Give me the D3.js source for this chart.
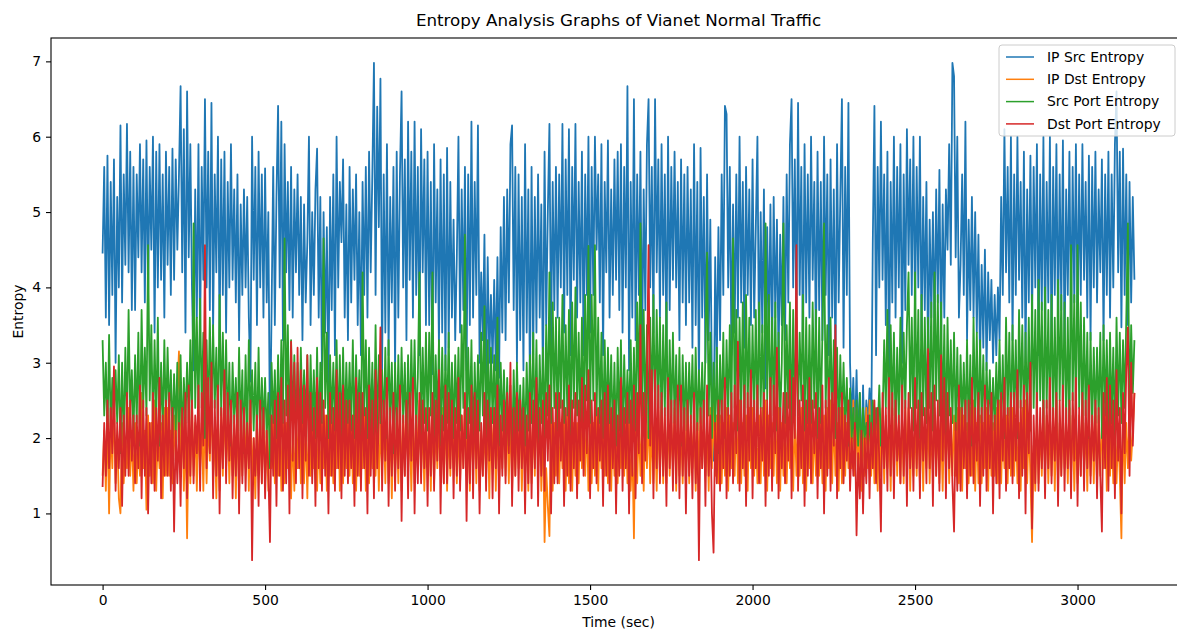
<!DOCTYPE html>
<html>
<head>
<meta charset="utf-8">
<script src="https://cdn.jsdelivr.net/npm/d3@7"></script>
<style>
  body { margin: 0; background: #fff; }
  svg { display: block; font-family: "DejaVu Sans", sans-serif; }
</style>
</head>
<body>
<script>
// sampled every 5 sec, one row = 100 sec
const timeStep = 5;

const ipSrc = [
  4.45, 5.6, 3.6, 5.75, 3.5, 5.4, 3.9, 5.7, 3.0, 5.2, 4.0, 6.15, 3.8, 5.5, 4.3, 6.17, 4.2, 5.8, 3.7, 5.6,
  3.7, 5.5, 4.4, 5.9, 4.2, 5.7, 3.8, 5.95, 3.9, 5.6, 4.5, 6.0, 3.4, 5.8, 4.0, 5.9, 4.1, 5.5, 3.6, 5.8,
  4.3, 5.6, 3.9, 5.84, 4.1, 5.7, 4.5, 5.5, 6.67, 4.2, 6.1, 3.4, 6.6, 4.4, 5.9, 4.0, 2.9, 5.3, 3.6, 5.9,
  3.3, 5.6, 4.1, 6.5, 4.0, 5.8, 3.7, 6.45, 3.4, 5.5, 4.2, 6.0, 3.3, 5.7, 3.9, 5.8, 3.4, 5.4, 4.0, 5.9,
  4.1, 5.3, 3.8, 5.5, 3.3, 5.1, 3.9, 5.3, 4.0, 5.2, 3.6, 2.75, 6.0, 4.1, 5.6, 3.5, 5.8, 4.0, 5.5, 3.6,
  5.58, 3.8, 5.0, 1.9, 3.7, 5.6, 3.5, 5.2, 6.41, 4.0, 6.2, 3.3, 5.9, 4.2, 5.4, 3.7, 5.6, 3.6, 5.3, 4.2,
  5.5, 3.9, 5.2, 3.3, 5.1, 3.8, 4.6, 6.0, 3.5, 5.0, 3.9, 5.3, 5.84, 3.6, 5.2, 2.9, 5.0, 3.4, 4.8, 2.7,
  5.2, 3.7, 5.5, 3.1, 6.0, 4.0, 5.4, 4.6, 5.7, 3.6, 5.1, 3.3, 5.6, 3.8, 5.3, 4.1, 5.5, 3.5, 5.0, 3.1,
  5.4, 3.9, 5.6, 3.6, 5.8, 4.2, 5.5, 6.98, 3.9, 6.4, 4.8, 6.77, 2.9, 5.5, 3.4, 5.9, 3.1, 5.2, 3.8, 5.6,
  2.9, 5.8, 3.6, 5.5, 6.6, 4.0, 5.7, 3.3, 6.2, 4.1, 5.8, 3.6, 6.2, 3.9, 5.6, 3.1, 6.1, 4.2, 5.7, 3.5,
  5.8, 3.5, 5.4, 2.85, 5.9, 3.8, 5.3, 3.2, 5.7, 3.4, 5.5, 2.9, 5.85, 3.2, 5.4, 3.6, 4.9, 3.3, 4.4, 6.0,
  3.4, 5.3, 3.7, 5.6, 2.9, 5.5, 3.5, 6.2, 3.6, 5.4, 3.9, 6.15, 3.0, 4.2, 3.3, 4.7, 2.65, 4.4, 3.0, 3.9,
  3.0, 4.1, 2.9, 4.4, 2.8, 4.8, 3.4, 5.2, 3.3, 5.3, 3.8, 5.9, 6.15, 3.7, 5.6, 3.0, 5.5, 3.3, 5.2, 2.9,
  5.9, 3.4, 5.3, 2.65, 5.6, 3.1, 5.2, 3.4, 5.5, 3.6, 5.1, 2.7, 5.8, 3.5, 5.0, 6.17, 3.2, 5.4, 3.7, 5.6,
  3.6, 5.5, 4.0, 6.17, 3.4, 5.7, 3.9, 6.1, 3.1, 5.6, 4.1, 6.17, 3.6, 5.4, 3.8, 5.8, 3.1, 5.5, 3.9, 6.0,
  3.4, 5.6, 3.9, 6.0, 4.5, 5.5, 3.8, 5.9, 3.1, 5.4, 4.2, 5.95, 3.6, 5.3, 3.9, 5.7, 4.1, 5.8, 3.7, 5.9,
  3.4, 5.6, 4.0, 6.67, 2.9, 5.4, 3.6, 6.5, 3.3, 5.5, 3.9, 5.8, 3.1, 5.3, 3.7, 5.9, 6.5, 4.0, 5.6, 3.4,
  6.5, 4.2, 5.7, 3.6, 5.9, 3.9, 5.5, 3.1, 6.0, 3.7, 5.6, 4.1, 5.8, 4.0, 5.4, 3.3, 5.7, 3.8, 5.5, 3.5,
  5.6, 3.8, 5.3, 3.2, 5.9, 3.5, 5.4, 2.66, 5.85, 3.6, 5.2, 3.0, 5.5, 3.3, 4.9, 2.7, 1.7, 4.4, 3.0, 4.8,
  3.3, 5.5, 3.9, 6.41, 6.3, 4.0, 5.6, 3.1, 5.1, 3.4, 5.5, 3.6, 6.0, 3.8, 5.4, 3.2, 5.6, 3.9, 5.3, 3.5,
  5.7, 3.6, 4.8, 6.0, 3.0, 5.0, 3.4, 5.3, 2.66, 4.8, 3.3, 5.1, 3.1, 5.2, 3.6, 4.9, 3.0, 4.7, 3.5, 5.2,
  3.3, 5.5, 3.8, 5.9, 6.5, 4.0, 5.7, 3.4, 6.45, 3.9, 5.6, 3.1, 5.9, 3.8, 5.5, 3.6, 6.0, 4.1, 5.4, 3.2,
  5.8, 3.7, 5.4, 3.3, 6.0, 3.9, 5.5, 3.1, 5.7, 3.6, 5.3, 2.9, 5.9, 3.8, 5.2, 6.5, 3.2, 5.6, 3.9, 6.45,
  3.0, 2.2, 2.8, 2.0, 2.9, 1.9, 2.6, 1.6, 2.7, 1.8, 2.5, 2.2, 2.66, 2.0, 4.6, 6.41, 3.1, 5.6, 4.0, 6.2,
  4.1, 5.5, 3.5, 5.8, 2.7, 5.4, 3.8, 6.0, 3.6, 5.6, 4.0, 5.9, 3.0, 5.5, 3.7, 6.1, 4.3, 5.7, 3.9, 6.0,
  3.6, 5.6, 4.0, 6.0, 3.3, 5.2, 3.7, 5.4, 3.0, 4.9, 3.6, 5.0, 3.4, 5.3, 3.8, 5.56, 3.2, 5.1, 3.6, 5.3,
  4.5, 5.9, 4.3, 6.98, 6.8, 4.4, 6.0, 3.6, 4.3, 5.5, 3.9, 6.2, 3.3, 4.9, 3.7, 5.2, 3.6, 5.0, 3.4, 4.7,
  3.0, 4.3, 3.2, 4.5, 2.9, 4.2, 3.3, 4.1, 3.0, 3.9, 3.1, 4.0, 3.3, 5.2, 3.9, 6.1, 4.2, 5.6, 3.8, 6.0,
  3.3, 5.5, 3.9, 6.0, 4.1, 5.4, 3.6, 5.8, 3.0, 5.3, 3.8, 5.75, 3.5, 5.6, 4.0, 5.9, 3.1, 5.5, 3.7, 6.0,
  3.3, 5.4, 3.8, 6.0, 3.1, 5.6, 3.9, 5.9, 3.4, 5.5, 3.7, 5.95, 3.1, 5.3, 3.9, 5.8, 3.4, 5.6, 3.8, 5.9,
  3.5, 5.5, 3.9, 5.9, 4.1, 5.4, 3.6, 5.75, 3.3, 5.6, 4.0, 5.8, 3.8, 5.3, 4.2, 5.7, 3.3, 5.5, 3.9, 5.8,
  3.6, 5.5, 4.0, 5.9, 6.6, 4.2, 5.8, 3.47, 5.84, 3.9, 5.5, 3.5, 5.4, 3.8, 5.2, 4.1
];

const ipDst = [
  1.5, 2.1, 1.3, 2.3, 1.0, 2.2, 1.6, 2.5, 1.4, 2.0, 1.2, 1.0, 2.2, 1.4, 2.0, 1.6, 2.4, 1.5, 2.1, 1.3,
  2.2, 1.4, 2.0, 1.5, 2.6, 1.6, 2.1, 1.05, 2.3, 1.5, 2.2, 1.4, 2.5, 1.3, 2.1, 1.6, 2.2, 1.2, 2.4, 1.5,
  2.4, 1.5, 2.1, 1.4, 2.3, 1.7, 2.6, 3.15, 1.6, 2.4, 1.3, 2.2, 0.67, 2.1, 1.4, 2.5, 1.5, 2.2, 1.3, 2.3,
  1.6, 2.2, 1.3, 2.4, 1.4, 2.3, 1.7, 2.6, 1.5, 2.1, 1.2, 2.3, 1.3, 2.4, 1.5, 2.5, 1.6, 2.3, 1.4, 2.2,
  1.5, 2.2, 1.2, 2.4, 1.3, 2.1, 1.5, 2.3, 1.6, 2.4, 1.3, 2.5, 1.4, 2.0, 1.2, 2.2, 1.5, 2.3, 1.4, 2.4,
  1.4, 2.1, 1.3, 2.3, 1.6, 2.4, 1.4, 2.5, 1.5, 2.3, 1.3, 2.2, 1.4, 2.2, 1.6, 2.4, 1.2, 2.1, 1.3, 2.3,
  1.6, 2.3, 1.4, 2.5, 1.4, 2.2, 1.2, 2.3, 1.5, 2.4, 1.6, 2.6, 1.3, 2.1, 1.4, 2.2, 1.6, 2.3, 1.3, 2.4,
  1.5, 2.2, 1.4, 2.3, 1.6, 2.5, 1.3, 2.4, 1.4, 2.3, 1.6, 2.2, 1.5, 2.3, 1.4, 2.6, 1.3, 2.2, 1.5, 2.4,
  1.6, 2.4, 1.3, 2.3, 1.4, 2.2, 1.6, 2.5, 1.5, 2.3, 1.3, 2.2, 1.6, 2.3, 1.4, 2.4, 1.4, 2.2, 1.2, 2.3,
  1.5, 2.2, 1.4, 2.4, 1.3, 2.3, 1.5, 2.6, 1.6, 2.2, 1.3, 2.3, 1.4, 2.4, 1.6, 2.5, 1.5, 2.3, 1.3, 2.2,
  1.6, 2.3, 1.3, 2.4, 1.4, 2.2, 1.6, 2.3, 1.5, 2.4, 1.4, 2.5, 1.3, 2.2, 1.5, 2.4, 1.6, 2.3, 1.4, 2.2,
  1.4, 2.3, 1.6, 2.5, 1.5, 2.2, 1.3, 2.3, 1.6, 2.3, 1.4, 2.4, 1.3, 2.1, 1.5, 2.2, 1.5, 2.3, 1.2, 2.4,
  1.6, 2.4, 1.3, 2.3, 1.4, 2.2, 1.6, 2.5, 1.5, 2.3, 1.4, 2.4, 1.3, 2.2, 1.5, 2.3, 1.6, 2.4, 1.3, 2.2,
  1.5, 2.2, 1.3, 2.4, 1.4, 2.3, 1.5, 2.6, 1.6, 2.4, 1.3, 2.3, 0.62, 1.6, 1.1, 0.7, 2.4, 1.3, 2.2, 1.5,
  2.3, 1.4, 2.2, 1.6, 2.4, 1.3, 2.3, 1.4, 2.5, 1.3, 2.2, 1.5, 2.2, 1.4, 2.4, 1.6, 2.4, 1.5, 2.3, 1.3,
  2.3, 1.4, 2.2, 1.5, 2.4, 1.3, 2.3, 1.6, 2.2, 1.5, 2.4, 1.4, 2.5, 1.3, 2.2, 1.5, 2.3, 1.4, 2.4, 1.6,
  2.4, 1.5, 2.3, 1.4, 2.2, 1.3, 1.9, 0.67, 2.5, 1.4, 2.2, 1.5, 2.3, 1.3, 2.4, 1.6, 2.4, 1.4, 2.2, 1.4,
  2.2, 1.3, 2.4, 1.5, 2.5, 1.4, 2.3, 1.4, 2.3, 1.5, 2.2, 1.6, 2.4, 1.3, 2.3, 1.5, 2.2, 1.4, 2.4, 1.4,
  2.5, 1.4, 2.2, 1.6, 2.3, 1.3, 2.4, 1.4, 2.4, 1.6, 2.3, 1.5, 2.2, 1.3, 2.4, 1.6, 2.5, 1.5, 2.3, 1.4,
  2.3, 1.4, 2.2, 1.5, 2.4, 1.3, 2.3, 1.6, 2.2, 1.5, 2.4, 1.4, 2.5, 1.4, 2.2, 1.5, 2.3, 1.3, 2.4, 1.6,
  2.4, 1.5, 2.2, 1.4, 2.3, 1.4, 2.4, 1.5, 2.5, 1.3, 2.3, 1.6, 2.2, 1.5, 2.4, 1.4, 2.4, 1.3, 2.2, 1.5,
  2.3, 1.4, 2.2, 1.6, 2.4, 1.3, 2.3, 1.5, 2.2, 1.5, 2.4, 1.4, 2.5, 1.3, 2.3, 1.6, 2.3, 1.4, 2.2, 1.5,
  2.4, 1.5, 2.2, 1.4, 2.3, 1.3, 2.4, 1.6, 2.5, 1.4, 2.3, 1.5, 2.2, 1.3, 2.4, 1.4, 2.4, 1.5, 2.2, 1.6,
  2.3, 1.6, 2.5, 1.5, 2.4, 1.4, 2.2, 1.3, 2.2, 1.5, 2.4, 1.6, 2.5, 1.5, 2.3, 1.4, 2.3, 1.3, 2.4, 1.5,
  2.4, 1.4, 2.3, 1.6, 2.2, 1.3, 2.4, 1.5, 2.5, 1.5, 2.2, 1.4, 2.3, 1.4, 2.4, 1.6, 2.4, 1.3, 2.2, 1.5,
  2.2, 1.5, 2.4, 1.4, 2.5, 1.3, 2.3, 1.6, 2.3, 1.4, 2.2, 1.5, 2.4, 1.5, 2.3, 1.4, 2.2, 1.3, 2.4, 1.6,
  2.5, 1.4, 2.2, 1.5, 2.3, 1.5, 2.4, 1.4, 2.4, 1.3, 2.3, 1.6, 2.2, 1.4, 2.4, 1.5, 2.5, 1.3, 2.2, 1.4,
  2.3, 1.4, 2.2, 1.6, 2.4, 1.3, 2.3, 1.5, 2.2, 1.5, 2.4, 1.4, 2.5, 1.4, 2.2, 1.6, 2.3, 1.4, 2.4, 1.5,
  2.4, 1.5, 2.3, 1.4, 2.2, 1.3, 2.4, 1.6, 2.5, 1.4, 2.2, 1.5, 0.62, 1.9, 1.3, 2.3, 1.4, 2.2, 1.5, 2.4,
  1.6, 2.3, 1.4, 2.2, 1.5, 2.4, 1.3, 2.5, 1.4, 2.2, 1.5, 2.3, 1.6, 2.2, 1.4, 2.4, 1.5, 2.3, 1.3, 2.2,
  1.4, 2.3, 1.5, 2.5, 1.6, 2.2, 1.3, 2.3, 1.5, 2.3, 1.4, 2.4, 1.4, 2.3, 1.5, 2.2, 1.6, 2.4, 1.3, 2.5,
  1.5, 2.2, 1.4, 2.3, 1.4, 2.1, 1.5, 0.67, 2.4, 1.4, 2.2, 1.6, 2.3, 1.7, 2.1, 2.6
];

const srcPort = [
  3.3, 2.3, 3.0, 2.0, 3.37, 2.1, 2.8, 2.2, 2.9, 2.2, 3.1, 1.8, 3.0, 1.9, 3.2, 2.2, 3.7, 2.3, 2.9, 2.0,
  3.1, 2.2, 3.4, 1.9, 3.7, 2.4, 3.2, 2.3, 4.56, 2.5, 3.5, 2.1, 3.3, 2.2, 3.6, 1.9, 3.0, 2.1, 3.3, 2.2,
  3.2, 2.3, 2.9, 2.0, 2.85, 2.1, 3.0, 1.8, 3.1, 1.9, 2.8, 2.2, 3.0, 2.2, 3.3, 2.0, 4.85, 2.4, 3.6, 2.3,
  3.85, 2.4, 3.4, 2.0, 3.3, 2.2, 3.6, 2.3, 3.5, 2.4, 3.2, 2.1, 3.9, 2.3, 3.4, 2.2, 3.3, 2.1, 3.0, 1.9,
  3.0, 2.2, 2.8, 2.0, 3.2, 2.1, 2.9, 1.8, 3.1, 2.0, 3.3, 2.2, 2.9, 2.1, 3.0, 1.9, 3.2, 2.0, 2.8, 2.1,
  2.8, 2.0, 2.6, 1.6, 3.0, 2.2, 2.9, 2.0, 3.1, 2.0, 3.3, 2.2, 4.65, 2.3, 3.5, 2.0, 3.3, 2.2, 3.1, 2.1,
  3.0, 2.1, 3.2, 2.2, 2.9, 2.2, 3.1, 1.9, 3.1, 2.1, 2.9, 2.0, 3.2, 2.0, 3.0, 2.2, 4.65, 2.4, 3.4, 2.0,
  3.1, 2.2, 3.0, 2.1, 3.3, 2.0, 3.1, 1.9, 3.2, 2.1, 3.0, 2.2, 3.0, 2.1, 3.3, 2.0, 3.1, 2.2, 2.9, 1.9,
  4.2, 2.3, 3.3, 2.0, 3.2, 2.1, 3.0, 1.9, 3.5, 2.0, 3.1, 2.2, 2.9, 2.1, 3.2, 2.0, 3.3, 2.2, 3.0, 1.8,
  3.0, 2.0, 3.1, 2.1, 3.2, 2.2, 3.0, 1.9, 3.1, 2.0, 3.3, 2.2, 3.3, 2.1, 2.8, 4.2, 2.0, 3.2, 2.2, 3.4,
  2.1, 3.4, 2.3, 4.2, 2.0, 3.1, 2.2, 3.3, 1.9, 3.2, 2.1, 3.1, 2.2, 3.4, 2.0, 3.0, 2.0, 3.1, 2.2, 3.2,
  2.1, 3.5, 2.4, 4.7, 2.0, 3.2, 2.2, 3.3, 1.8, 3.0, 2.1, 3.1, 2.1, 3.4, 2.3, 3.75, 2.0, 3.3, 2.1, 3.2,
  2.2, 3.1, 2.0, 3.6, 1.9, 3.0, 2.1, 2.9, 2.0, 2.8, 1.9, 2.7, 1.8, 2.9, 2.0, 3.0, 2.1, 2.7, 1.9, 2.8,
  1.9, 3.0, 2.1, 3.1, 2.2, 3.4, 2.0, 3.3, 1.8, 3.1, 2.2, 3.2, 2.0, 3.5, 2.3, 4.2, 2.2, 3.8, 2.4, 3.6,
  2.1, 3.6, 2.4, 3.9, 2.2, 3.5, 2.3, 3.7, 2.0, 3.8, 2.4, 4.0, 2.3, 3.4, 2.2, 3.6, 2.1, 3.9, 2.5, 4.55,
  2.2, 3.9, 2.5, 4.56, 2.3, 3.6, 2.2, 3.4, 2.0, 3.3, 2.1, 3.2, 2.2, 3.1, 2.0, 3.0, 1.9, 3.2, 2.1, 3.3,
  2.0, 3.1, 2.2, 2.9, 2.2, 3.3, 2.0, 3.2, 2.1, 3.8, 2.4, 4.85, 2.3, 3.7, 2.2, 3.5, 2.0, 3.6, 2.3, 3.9,
  2.2, 3.7, 2.4, 3.6, 2.1, 3.5, 2.3, 3.8, 2.0, 3.3, 2.2, 3.4, 2.2, 3.1, 2.0, 3.2, 1.9, 3.1, 2.1, 3.0,
  2.1, 3.0, 2.2, 3.1, 2.0, 3.2, 2.1, 2.9, 2.2, 3.0, 2.0, 3.2, 4.46, 2.3, 3.4, 2.0, 3.0, 2.1, 3.2, 1.8,
  3.1, 2.2, 3.4, 2.0, 3.3, 2.3, 3.5, 2.2, 4.65, 2.4, 3.7, 2.1, 3.6, 2.3, 3.8, 2.0, 3.9, 2.4, 3.6, 2.2,
  3.5, 2.3, 3.7, 2.1, 3.8, 2.4, 3.5, 2.0, 4.85, 2.5, 3.9, 2.2, 3.6, 2.3, 3.8, 2.1, 3.4, 2.2, 3.0, 4.85,
  2.2, 3.5, 2.4, 3.8, 2.0, 3.7, 2.3, 3.6, 2.3, 3.4, 2.5, 3.9, 2.1, 3.6, 2.2, 3.5, 2.2, 3.8, 2.4, 3.7,
  2.0, 3.6, 2.2, 3.4, 4.85, 2.4, 3.5, 2.1, 3.6, 2.2, 3.3, 2.0, 3.2, 2.0, 3.1, 2.2, 3.0, 2.1, 2.8, 1.9,
  2.66, 2.0, 2.4, 1.8, 2.5, 1.9, 2.6, 1.7, 2.4, 2.0, 2.2, 1.9, 2.3, 1.8, 2.5, 2.0, 2.4, 2.1, 2.7, 1.9,
  2.2, 3.3, 2.4, 3.7, 2.0, 3.5, 2.3, 3.4, 2.1, 3.2, 2.2, 3.6, 2.2, 3.4, 2.4, 3.5, 4.2, 2.4, 3.6, 2.1,
  4.2, 2.4, 3.7, 2.0, 3.9, 2.3, 3.6, 2.2, 3.6, 2.4, 3.8, 2.1, 4.2, 2.5, 3.9, 2.3, 3.8, 2.2, 3.5, 2.0,
  3.6, 2.3, 3.3, 2.2, 3.4, 2.1, 3.2, 2.0, 3.1, 2.2, 3.0, 2.1, 3.3, 2.0, 3.1, 1.9, 3.6, 2.2, 3.4, 2.0,
  3.3, 2.2, 3.1, 2.1, 3.0, 2.2, 2.9, 2.0, 2.8, 2.1, 3.0, 2.2, 3.3, 2.1, 3.1, 2.0, 3.6, 2.3, 3.4, 2.1,
  3.5, 2.3, 3.3, 2.0, 3.7, 2.4, 3.5, 2.2, 3.4, 2.2, 3.6, 2.1, 3.9, 2.4, 3.7, 2.2, 4.1, 2.5, 3.8, 2.0,
  4.0, 2.4, 3.7, 2.2, 3.9, 2.3, 3.6, 2.1, 4.1, 2.5, 3.9, 2.3, 3.8, 2.2, 3.6, 2.0, 4.56, 2.5, 3.9, 2.2,
  4.56, 2.4, 3.8, 2.1, 3.6, 2.3, 3.4, 2.0, 3.4, 2.1, 3.2, 2.2, 3.2, 2.2, 3.4, 2.0, 3.5, 2.3, 3.3, 2.1,
  3.4, 2.2, 3.2, 2.0, 3.6, 2.3, 3.4, 2.2, 3.3, 2.4, 3.6, 4.85, 2.2, 3.5, 2.6, 3.3
];

const dstPort = [
  1.35, 2.2, 1.5, 2.5, 1.6, 2.4, 1.8, 2.95, 1.3, 2.2, 1.6, 2.4, 1.1, 2.3, 1.5, 2.6, 1.5, 2.5, 1.7, 2.3,
  1.4, 2.3, 1.6, 2.7, 1.2, 2.5, 1.5, 2.4, 1.0, 2.2, 1.4, 2.6, 1.3, 2.4, 1.7, 2.8, 1.2, 2.3, 1.5, 2.5,
  1.5, 2.6, 1.3, 2.4, 0.76, 2.1, 1.4, 2.2, 1.1, 2.4, 1.6, 2.6, 1.2, 2.7, 1.5, 2.5, 1.4, 2.3, 1.8, 2.7,
  1.3, 2.6, 1.9, 4.56, 1.6, 2.8, 1.8, 3.0, 1.2, 2.5, 1.5, 2.7, 1.0, 2.4, 1.6, 2.9, 1.4, 2.6, 1.7, 2.5,
  1.2, 2.3, 1.5, 2.6, 1.0, 2.5, 1.4, 2.4, 1.3, 2.2, 1.6, 2.5, 0.38, 2.0, 1.5, 2.3, 1.1, 2.5, 1.4, 2.4,
  1.2, 2.1, 1.6, 0.62, 2.3, 1.5, 2.5, 1.1, 2.6, 1.5, 2.8, 1.3, 2.5, 1.4, 2.7, 1.0, 3.28, 1.7, 3.0, 1.4,
  3.2, 1.6, 2.9, 1.2, 2.7, 1.7, 3.1, 1.5, 2.6, 1.4, 2.4, 1.1, 2.8, 1.6, 2.6, 1.3, 2.5, 1.5, 2.3, 1.0,
  2.6, 1.5, 2.4, 1.3, 2.9, 1.6, 2.6, 1.2, 2.7, 1.5, 2.5, 1.4, 2.5, 1.6, 2.3, 1.1, 2.8, 1.5, 2.6, 1.3,
  2.6, 1.6, 2.4, 1.0, 2.7, 1.5, 2.5, 1.2, 2.9, 1.6, 2.2, 3.47, 1.3, 2.5, 1.7, 2.8, 1.1, 2.4, 1.5, 2.6,
  1.3, 2.4, 1.6, 2.7, 0.9, 2.3, 1.5, 2.5, 1.2, 2.6, 1.7, 2.8, 1.0, 2.3, 1.4, 2.6, 1.4, 2.5, 1.6, 2.4,
  1.1, 2.4, 1.5, 2.6, 1.3, 2.5, 1.7, 2.9, 1.0, 2.3, 1.4, 2.7, 1.4, 2.6, 1.6, 2.5, 1.2, 2.4, 1.5, 2.8,
  1.3, 2.3, 1.6, 2.6, 0.9, 2.4, 1.4, 2.7, 1.2, 2.6, 1.6, 2.5, 1.0, 2.2, 1.5, 2.6, 1.3, 2.5, 1.7, 2.4,
  1.2, 2.4, 1.6, 2.7, 1.0, 2.3, 1.5, 2.5, 1.4, 2.6, 1.8, 3.0, 1.1, 2.4, 1.5, 2.6, 1.3, 2.5, 1.6, 2.4,
  1.0, 2.3, 1.4, 2.6, 1.2, 2.5, 1.6, 2.8, 1.1, 2.4, 1.5, 2.5, 1.3, 2.6, 1.7, 2.7, 1.0, 2.4, 1.4, 2.6,
  1.4, 2.6, 1.7, 2.5, 1.1, 2.4, 1.5, 2.7, 1.3, 2.5, 1.6, 2.6, 1.2, 2.5, 1.7, 2.8, 1.5, 2.7, 1.8, 2.9,
  1.2, 2.5, 1.6, 2.6, 1.4, 2.4, 1.7, 2.5, 1.1, 2.6, 1.5, 2.7, 1.3, 2.4, 1.6, 2.5, 1.0, 2.3, 1.5, 2.8,
  1.3, 2.4, 1.6, 2.6, 1.0, 2.5, 1.5, 2.7, 1.2, 2.6, 1.8, 3.5, 1.4, 2.6, 1.7, 2.8, 4.56, 1.9, 2.9, 1.2,
  2.9, 1.6, 2.7, 1.4, 2.6, 1.5, 2.4, 1.1, 2.8, 1.6, 2.5, 1.3, 2.5, 1.4, 2.7, 1.2, 2.7, 1.5, 2.4, 1.0,
  2.5, 1.5, 2.3, 1.2, 2.6, 1.4, 2.2, 0.38, 2.4, 1.6, 2.5, 1.1, 2.7, 1.5, 2.3, 1.0, 0.48, 2.2, 1.4, 2.5,
  1.3, 2.5, 1.6, 2.8, 1.2, 2.4, 1.5, 2.6, 1.4, 2.7, 1.8, 3.28, 1.3, 2.5, 1.6, 2.7, 1.1, 2.6, 1.7, 2.9,
  1.2, 2.5, 1.6, 2.7, 1.4, 2.4, 1.7, 2.6, 1.1, 2.5, 1.5, 2.8, 1.3, 2.7, 1.8, 3.2, 1.2, 2.4, 1.6, 2.6,
  1.4, 2.6, 1.7, 2.9, 1.2, 2.8, 2.0, 4.56, 1.3, 2.5, 1.6, 2.7, 1.1, 2.5, 1.5, 2.8, 1.4, 2.5, 1.8, 2.6,
  1.2, 2.4, 1.6, 2.7, 1.0, 2.5, 1.5, 2.8, 1.3, 2.6, 1.9, 3.5, 1.2, 2.4, 1.6, 2.6, 1.4, 2.3, 1.7, 2.5,
  1.3, 2.0, 1.5, 2.2, 0.71, 1.8, 1.2, 2.1, 1.0, 2.0, 1.4, 2.3, 1.2, 2.2, 1.6, 2.5, 1.4, 2.4, 1.7, 0.76,
  2.6, 1.6, 2.4, 1.3, 2.8, 1.5, 2.6, 1.2, 2.5, 1.7, 2.3, 1.4, 2.7, 1.5, 2.5, 1.1, 2.6, 1.6, 2.4, 1.3,
  2.8, 1.6, 2.5, 1.2, 2.6, 1.7, 2.4, 1.4, 3.18, 1.6, 2.6, 1.1, 2.7, 1.5, 2.5, 1.3, 3.1, 1.7, 2.8, 1.2,
  2.6, 1.6, 2.4, 1.4, 0.76, 2.2, 1.3, 2.7, 1.3, 2.4, 1.6, 2.5, 1.2, 2.5, 1.5, 2.8, 1.4, 2.4, 1.7, 2.6,
  1.1, 2.4, 1.5, 2.7, 1.3, 2.5, 1.6, 2.6, 1.0, 2.3, 1.4, 2.5, 1.2, 2.6, 1.7, 2.8, 1.3, 2.4, 1.6, 2.6,
  1.4, 2.6, 1.7, 2.9, 1.2, 2.5, 1.5, 2.7, 1.0, 2.6, 1.8, 3.0, 0.8, 2.3, 1.4, 2.6, 1.3, 2.4, 1.6, 2.5,
  1.2, 2.5, 1.6, 2.8, 1.4, 2.4, 1.7, 2.6, 1.1, 2.5, 1.5, 2.7, 1.3, 2.4, 1.6, 2.5, 1.2, 2.6, 1.7, 2.8,
  1.1, 2.4, 1.5, 2.6, 1.3, 2.5, 1.6, 2.7, 1.4, 2.3, 1.7, 2.5, 1.2, 2.4, 1.5, 0.76, 2.6, 1.6, 2.8, 1.3,
  2.7, 1.6, 2.5, 1.2, 2.9, 1.7, 2.4, 1.0, 2.6, 1.8, 2.9, 3.47, 1.5, 3.0, 1.9, 2.6
];

const seriesNames = ["IP Src Entropy", "IP Dst Entropy", "Src Port Entropy", "Dst Port Entropy"];
const seriesColors = ["#1f77b4", "#ff7f0e", "#2ca02c", "#d62728"];
const xTicks = [0, 500, 1000, 1500, 2000, 2500, 3000];
const yTicks = [1, 2, 3, 4, 5, 6, 7];

const width = 1177, height = 632;
// right edge of the axes lies just past the cropped picture
const margin = {left: 51, top: 38, right: 1186, bottom: 585};

const allSeries = [ipSrc, ipDst, srcPort, dstPort];
const tMax = (ipSrc.length - 1) * timeStep;
const yMin = d3.min(allSeries, s => d3.min(s));
const yMax = d3.max(allSeries, s => d3.max(s));
const yPad = (yMax - yMin) * 0.05, xPad = tMax * 0.05;

const x = d3.scaleLinear().domain([-xPad, tMax + xPad]).range([margin.left, margin.right]);
const y = d3.scaleLinear().domain([yMin - yPad, yMax + yPad]).range([margin.bottom, margin.top]);

const svg = d3.select("body").append("svg")
  .attr("width", width)
  .attr("height", height);

svg.append("defs").append("clipPath").attr("id", "plot-clip")
  .append("rect")
  .attr("x", margin.left).attr("y", margin.top)
  .attr("width", margin.right - margin.left)
  .attr("height", margin.bottom - margin.top);

const line = d3.line()
  .x((d, i) => x(i * timeStep))
  .y(d => y(d));

const linesG = svg.append("g").attr("clip-path", "url(#plot-clip)");
allSeries.forEach((s, k) => {
  linesG.append("path")
    .datum(s)
    .attr("fill", "none")
    .attr("stroke", seriesColors[k])
    .attr("stroke-width", 1.8)
    .attr("stroke-linejoin", "round")
    .attr("d", line);
});

// axes
const xAxis = svg.append("g")
  .attr("transform", `translate(0,${margin.bottom})`)
  .call(d3.axisBottom(x).tickValues(xTicks).tickSize(5).tickPadding(5).tickFormat(d3.format("d")));
const yAxis = svg.append("g")
  .attr("transform", `translate(${margin.left},0)`)
  .call(d3.axisLeft(y).tickValues(yTicks).tickSize(5).tickPadding(5).tickFormat(d3.format("d")));

[xAxis, yAxis].forEach(a => {
  a.select(".domain").remove();
  a.selectAll("line").attr("stroke", "#000").attr("stroke-width", 1.1);
  a.selectAll("text").attr("font-size", 13.9).attr("fill", "#000")
    .attr("font-family", "DejaVu Sans, sans-serif");
});

// frame
svg.append("rect")
  .attr("x", margin.left).attr("y", margin.top)
  .attr("width", margin.right - margin.left)
  .attr("height", margin.bottom - margin.top)
  .attr("fill", "none")
  .attr("stroke", "#000")
  .attr("stroke-width", 1.1);

const cx = (margin.left + margin.right) / 2;
svg.append("text")
  .attr("x", cx).attr("y", 26)
  .attr("text-anchor", "middle")
  .attr("font-size", 16.7)
  .text("Entropy Analysis Graphs of Vianet Normal Traffic");

svg.append("text")
  .attr("x", cx).attr("y", 627)
  .attr("text-anchor", "middle")
  .attr("font-size", 13.9)
  .text("Time (sec)");

svg.append("text")
  .attr("transform", `translate(23,${(margin.top + margin.bottom) / 2}) rotate(-90)`)
  .attr("text-anchor", "middle")
  .attr("font-size", 13.9)
  .text("Entropy");

// legend
const legend = svg.append("g").attr("transform", "translate(999,45)");
legend.append("rect")
  .attr("width", 176).attr("height", 91)
  .attr("rx", 3)
  .attr("fill", "#fff").attr("fill-opacity", 0.8)
  .attr("stroke", "#ccc").attr("stroke-width", 1);
seriesNames.forEach((name, k) => {
  const ly = 12 + k * 22.3;
  legend.append("line")
    .attr("x1", 7).attr("x2", 35)
    .attr("y1", ly).attr("y2", ly)
    .attr("stroke", seriesColors[k]).attr("stroke-width", 1.5);
  legend.append("text")
    .attr("x", 48).attr("y", ly)
    .attr("dy", "0.35em")
    .attr("font-size", 13.9)
    .text(name);
});
</script>
</body>
</html>
